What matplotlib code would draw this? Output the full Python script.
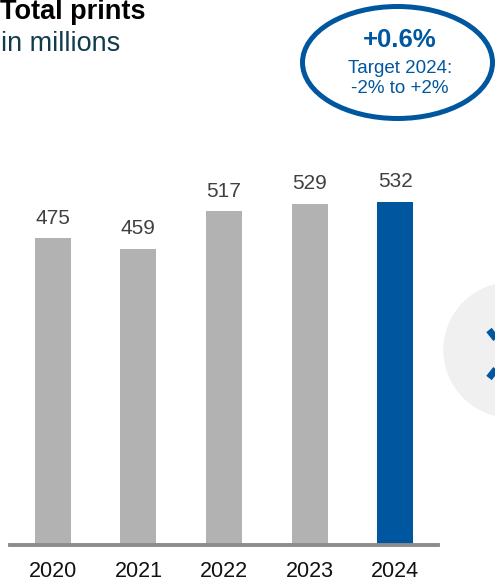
import matplotlib.pyplot as plt
from matplotlib.patches import Ellipse, Circle

plt.rcParams['font.family'] = ['Liberation Sans', 'DejaVu Sans']

years = ["2020", "2021", "2022", "2023", "2024"]
prints = [475, 459, 517, 529, 532]
bar_colors = ["#b2b2b2", "#b2b2b2", "#b2b2b2", "#b2b2b2", "#0057a0"]

W, H = 495, 583
fig = plt.figure(figsize=(W / 100, H / 100), dpi=100)

# overlay in pixel coordinates for the decorations
deco = fig.add_axes([0, 0, 1, 1])
deco.set_xlim(0, W)
deco.set_ylim(H, 0)
deco.set_axis_off()

# bar chart area: baseline at y=545 px, x from 10 to 438 px
ax = fig.add_axes([10 / W, (H - 545) / H, 428 / W, 444 / H])
x = range(len(years))
ax.bar(x, prints, width=0.42, color=bar_colors)
ax.set_xlim(-0.5, 4.5)
ax.set_ylim(0, 688)
for s in ["top", "right", "left"]:
    ax.spines[s].set_visible(False)
ax.spines["bottom"].set_color("#8c8c8c")
ax.spines["bottom"].set_linewidth(2.8)
ax.set_yticks([])
ax.set_xticks(list(x))
ax.set_xticklabels(years, fontsize=15.5, color="#111111")
ax.tick_params(axis="x", length=0, pad=11.5)
ax.patch.set_alpha(0)
for i, v in zip(x, prints):
    ax.annotate(f"{v}", (i, v), xytext=(0, 10.5), textcoords="offset points",
                ha="center", va="baseline", fontsize=15, color="#404040")

# title
deco.text(0, 19, "Total prints", fontsize=19.5, fontweight="bold", color="black",
          ha="left", va="baseline")
deco.text(1, 51, "in millions", fontsize=19.5, color="#123b4c", ha="left", va="baseline")

# highlight ellipse
deco.add_patch(Ellipse((397.5, 62.5), 190, 112, fill=False, edgecolor="#0057a0", linewidth=3.6))
deco.text(400, 47, "+0.6%", fontsize=18.5, fontweight="bold", color="#0057a0",
          ha="center", va="baseline")
deco.text(400, 73, "Target 2024:", fontsize=13.5, color="#0057a0", ha="center", va="baseline")
deco.text(400, 93, "-2% to +2%", fontsize=13.5, color="#0057a0", ha="center", va="baseline")

# partial navigation circle at right edge
deco.add_patch(Circle((511, 350), 67, color="#f0f0f0", zorder=0))
deco.plot([489, 508, 489], [330, 354, 378], color="#0057a0", linewidth=5,
          solid_capstyle="butt", zorder=1)

fig.savefig("out.png", dpi=100)
